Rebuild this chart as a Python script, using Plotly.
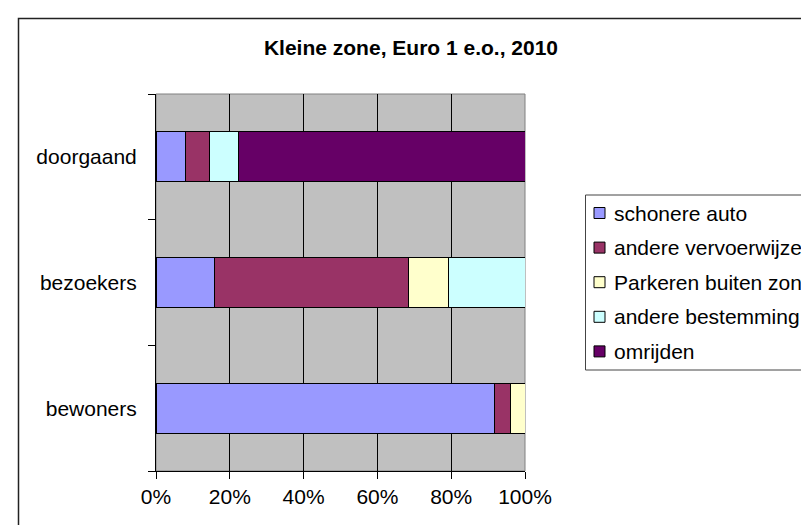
import plotly.graph_objects as go

categories = ["bewoners", "bezoekers", "doorgaand"]
series_names = ["schonere auto", "andere vervoerwijze", "Parkeren buiten zone",
                "andere bestemming", "omrijden"]
series_colors = ["#9999FF", "#993366", "#FFFFCC", "#CCFFFF", "#660066"]
# values in % per category (bewoners, bezoekers, doorgaand)
schonere_auto = [91.6, 15.9, 8.1]
andere_vervoerwijze = [4.6, 52.5, 6.4]
parkeren_buiten_zone = [3.8, 10.9, None]
andere_bestemming = [None, 20.7, 7.8]
omrijden = [None, None, 77.7]
x_ticks = [0, 20, 40, 60, 80, 100]
x_tick_labels = ["0%", "20%", "40%", "60%", "80%", "100%"]
title_text = "Kleine zone, Euro 1 e.o., 2010"

series_values = [schonere_auto, andere_vervoerwijze, parkeren_buiten_zone,
                 andere_bestemming, omrijden]

FONT = "Liberation Sans, Arial, sans-serif"
FS = 21

W, H = 809, 525
L, R, T, B = 148, 517, 86, 463
pw, ph = R - L, B - T

def px2x(x):
    return (x - L) / pw

def px2y(y):
    return (B - y) / ph

fig = go.Figure()
for name, vals, col in zip(series_names, series_values, series_colors):
    fig.add_trace(go.Bar(
        y=categories, x=vals, name=name, orientation="h",
        marker=dict(color=col, line=dict(color="black", width=1)),
        showlegend=False,
    ))

shapes = []
annotations = []
# plot-area border (gray)
shapes.append(dict(type="rect", xref="paper", yref="paper", x0=0, y0=0, x1=1, y1=1,
                   line=dict(color="#808080", width=1), layer="below"))
# outer chart border
shapes.append(dict(type="rect", xref="paper", yref="paper",
                   x0=px2x(10.5), y0=px2y(540), x1=px2x(830), y1=px2y(10.5),
                   line=dict(color="#222222", width=1.5)))

# manual legend
leg_left, leg_top, leg_bottom = 577.5, 187, 362
shapes.append(dict(type="rect", xref="paper", yref="paper",
                   x0=px2x(leg_left), y0=px2y(leg_bottom), x1=px2x(830), y1=px2y(leg_top),
                   line=dict(color="#444444", width=1), fillcolor="white"))
first_y, step = 205, 34.6
for i, (name, col) in enumerate(zip(series_names, series_colors)):
    cy = first_y + i * step
    shapes.append(dict(type="rect", xref="paper", yref="paper",
                       x0=px2x(586), y0=px2y(cy + 5.5), x1=px2x(597), y1=px2y(cy - 5.5),
                       line=dict(color="black", width=1), fillcolor=col))
    annotations.append(dict(xref="paper", yref="paper", x=px2x(604), y=px2y(cy),
                            text=name, showarrow=False, xanchor="left", yanchor="middle",
                            font=dict(family=FONT, size=FS, color="black")))

fig.update_layout(
    width=W, height=H,
    margin=dict(l=L, r=W - R, t=T, b=H - B, pad=0),
    paper_bgcolor="white", plot_bgcolor="#C0C0C0",
    barmode="stack", bargap=0.6,
    showlegend=False,
    font=dict(family=FONT, size=FS, color="black"),
    title=dict(text="<b>" + title_text + "</b>", x=403 / W,
               xanchor="center", y=1 - 40 / H, yanchor="middle",
               font=dict(family=FONT, size=FS, color="black")),
    xaxis=dict(range=[0, 100], tickvals=x_ticks, ticktext=x_tick_labels,
               ticks="outside", ticklen=7, tickcolor="black", tickwidth=1,
               showgrid=True, gridcolor="black", gridwidth=1,
               showline=True, linecolor="black", linewidth=1,
               zeroline=False, fixedrange=True,
               tickfont=dict(family=FONT, size=FS, color="black")),
    yaxis=dict(type="category", categoryorder="array", categoryarray=categories,
               range=[-0.5, 2.5], tickson="boundaries",
               ticks="outside", ticklen=7, tickcolor="black", tickwidth=1,
               showgrid=False, showline=True, linecolor="black", linewidth=1,
               zeroline=False, fixedrange=True, ticklabelstandoff=14,
               tickfont=dict(family=FONT, size=FS, color="black")),
    shapes=shapes, annotations=annotations,
)

fig.write_html("out.html")
